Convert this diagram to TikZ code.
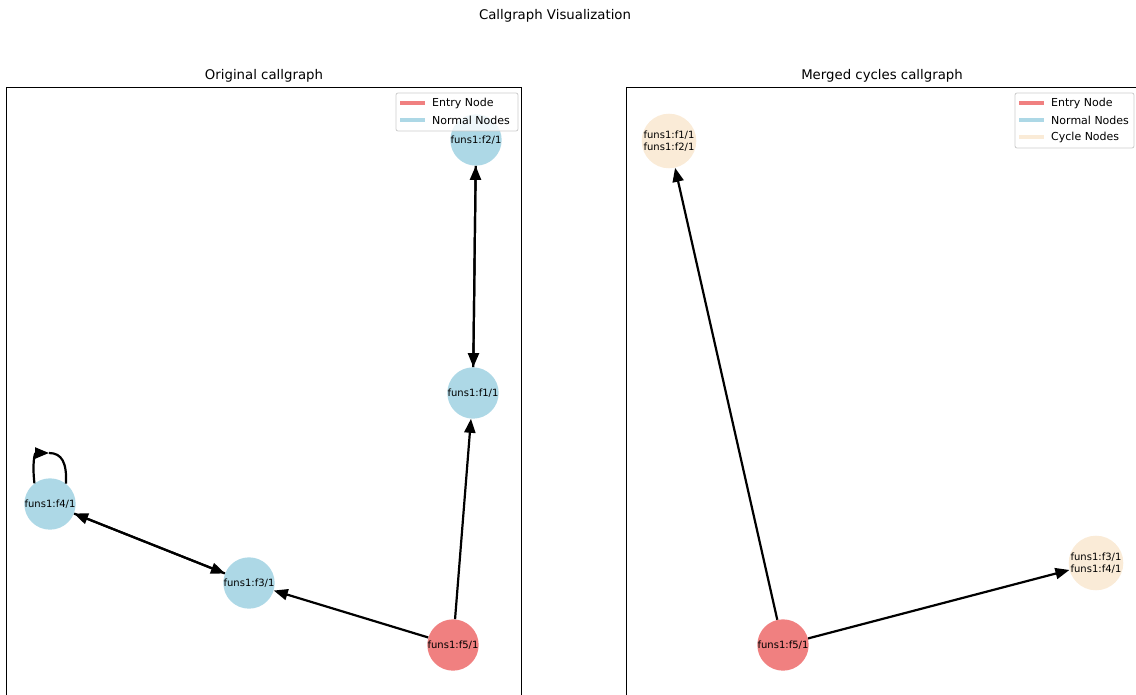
\documentclass[tikz,border=0pt]{standalone}
\usepackage{fontspec}
\setmainfont{DejaVu Sans}
\usetikzlibrary{arrows.meta}
\definecolor{entrycol}{HTML}{F08080}
\definecolor{normalcol}{HTML}{ADD8E6}
\definecolor{cyclecol}{HTML}{FAEBD7}
\tikzstyle{fnode} = [circle, minimum size=50pt, inner sep=0pt, align=center, font=\fontsize{10}{12}\selectfont]
\tikzstyle{arrow} = [line width=2.2pt, -{Triangle[length=14pt,width=11pt]}]
\tikzstyle{legendbox} = [draw=black!20, fill=white, fill opacity=0.8, rounded corners=2pt, line width=0.8pt]
\tikzstyle{legendtext} = [anchor=west, inner sep=0pt, font=\fontsize{11}{13}\selectfont]
\tikzstyle{titletext} = [font=\fontsize{13.3}{15}\selectfont]

\begin{document}
\begin{tikzpicture}[x=1pt, y=-1pt]
    \useasboundingbox (0,0) rectangle (1136,695);
    \clip (0,0) rectangle (1136,695);

    \node (suptitle) [titletext] at (555,16) {Callgraph Visualization};
    \node (lefttitle) [titletext] at (264,76) {Original callgraph};
    \node (righttitle) [titletext] at (882,76) {Merged cycles callgraph};

    \draw[line width=1pt] (6,700) -- (6,88) -- (521,88) -- (521,700);
    \draw[line width=1pt] (626,700) -- (626,88) -- (1140,88);

    % original callgraph
    \node (f2) [fnode, fill=normalcol] at (476,140) {funs1:f2/1};
    \node (f1) [fnode, fill=normalcol] at (473,393) {funs1:f1/1};
    \node (f4) [fnode, fill=normalcol] at (50,504) {funs1:f4/1};
    \node (f3) [fnode, fill=normalcol] at (249,583) {funs1:f3/1};
    \node (f5) [fnode, fill=entrycol] at (453,645) {funs1:f5/1};

    \foreach \i/\j in {f1/f2, f2/f1, f5/f1, f5/f3, f3/f4, f4/f3} {
        \draw [arrow] (\i) -- (\j);
    }
    \coordinate (looptop) at (49,453);
    \draw [arrow] (f4.127) .. controls (32,462) and (35,453) .. (looptop);
    \draw [line width=2.2pt] (looptop) .. controls (62,453) and (67,463) .. (f4.52);

    % merged cycles callgraph
    \node (mf12) [fnode, fill=cyclecol] at (669,141) {funs1:f1/1\\funs1:f2/1};
    \node (mf5) [fnode, fill=entrycol] at (783,645) {funs1:f5/1};
    \node (mf34) [fnode, fill=cyclecol] at (1096,563) {funs1:f3/1\\funs1:f4/1};

    \foreach \i/\j in {mf5/mf12, mf5/mf34} {
        \draw [arrow] (\i) -- (\j);
    }

    % legends
    \draw [legendbox] (396,93) rectangle (518,131);
    \draw [line width=4pt, entrycol] (400,103) -- (425,103);
    \draw [line width=4pt, normalcol] (400,120) -- (425,120);
    \node (lentry) [legendtext] at (432,103) {Entry Node};
    \node (lnormal) [legendtext] at (432,120) {Normal Nodes};

    \draw [legendbox] (1015,93) rectangle (1134,148);
    \draw [line width=4pt, entrycol] (1019,103) -- (1044,103);
    \draw [line width=4pt, normalcol] (1019,120) -- (1044,120);
    \draw [line width=4pt, cyclecol] (1019,137) -- (1044,137);
    \node (mentry) [legendtext] at (1051,103) {Entry Node};
    \node (mnormal) [legendtext] at (1051,120) {Normal Nodes};
    \node (mcycle) [legendtext] at (1051,137) {Cycle Nodes};
\end{tikzpicture}
\end{document}
